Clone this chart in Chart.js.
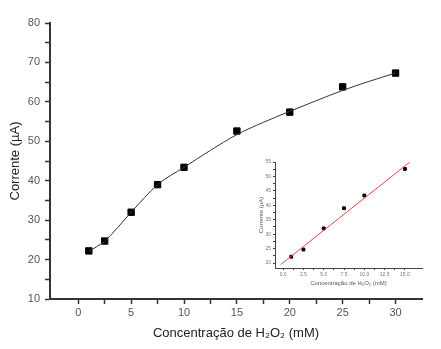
<!DOCTYPE html>
<html>
<head>
<meta charset="UTF-8">
<title>Corrente vs H2O2</title>
<script src="https://cdn.jsdelivr.net/npm/chart.js"></script>
<style>
	body { margin: 0; background: #fff; }
	#wrap { position: relative; width: 441px; height: 349px; }
	#main { position: absolute; left: 0; top: 0; }
	#inset { position: absolute; left: 240px; top: 150px; }
</style>
</head>
<body>
<div id="wrap">
	<canvas id="main" width="441" height="349"></canvas>
	<canvas id="inset" width="190" height="150"></canvas>
</div>
<script>
	const concentracao = [1, 2.5, 5, 7.5, 10, 15, 20, 25, 30];
	const corrente = [22.2, 24.7, 32.0, 39.0, 43.4, 52.6, 57.4, 63.8, 67.3];

	const curvaX = [1, 2.5, 5, 7.5, 10, 12.5, 15, 17.5, 20, 22.5, 25, 27.5, 30];
	const curvaY = [22.1, 24.7, 32.0, 39.0, 43.4, 47.7, 51.7, 54.8, 57.6, 60.3, 62.9, 65.2, 67.3];

	// inset (faixa linear)
	const concInset = [1, 2.5, 5, 7.5, 10, 15];
	const corrInset = [22.2, 24.7, 32.0, 39.0, 43.4, 52.6];
	const ajusteX = [-0.3, 15.7];
	const ajusteY = [19.5, 55.2];

	const xTicksMain = [0, 2.5, 5, 7.5, 10, 12.5, 15, 17.5, 20, 22.5, 25, 27.5, 30];
	const yTicksMain = [10, 15, 20, 25, 30, 35, 40, 45, 50, 55, 60, 65, 70, 75, 80];
	const xTicksInset = [0, 1.25, 2.5, 3.75, 5, 6.25, 7.5, 8.75, 10, 11.25, 12.5, 13.75, 15];
	const yTicksInset = [20, 22.5, 25, 27.5, 30, 32.5, 35, 37.5, 40, 42.5, 45, 47.5, 50, 52.5, 55];

	const pts = (xs, ys) => xs.map((x, i) => ({x: x, y: ys[i]}));
	const fixTicks = list => function(scale){ scale.ticks = list.map(v => ({value: v})); };

	Chart.defaults.font.family = 'Liberation Sans, Arial, sans-serif';
	Chart.defaults.animation = false;

	const eixo = '#333';

	new Chart(document.getElementById('main'), {
		type: 'line',
		data: {
			datasets: [{
				data: pts(curvaX, curvaY),
				borderColor: '#333',
				borderWidth: 1,
				pointRadius: 0,
				cubicInterpolationMode: 'monotone'
			}, {
				data: pts(concentracao, corrente),
				showLine: false,
				borderColor: '#000',
				backgroundColor: '#000',
				pointStyle: 'rect',
				pointRadius: 4.5
			}]
		},
		options: {
			responsive: false,
			layout: { padding: { top: 23, right: 19, bottom: 0, left: 0 } },
			plugins: { legend: { display: false }, tooltip: { enabled: false } },
			scales: {
				x: {
					type: 'linear',
					min: -2.67, max: 32.5,
					afterBuildTicks: fixTicks(xTicksMain),
					afterFit: s => { s.height = 50; },
					border: { color: eixo, width: 2 },
					grid: { drawOnChartArea: false, tickLength: 5, tickColor: eixo, tickWidth: 1.5 },
					ticks: {
						padding: 2, color: '#555', font: { size: 11 },
						callback: v => (v % 5 === 0 ? v : '')
					},
					title: {
						display: true, text: 'Concentração de H₂O₂ (mM)', color: '#222',
						font: { size: 13 }, padding: { top: 0, bottom: 8 }
					}
				},
				y: {
					min: 10, max: 80,
					afterBuildTicks: fixTicks(yTicksMain),
					afterFit: s => { s.width = 50; },
					border: { color: eixo, width: 2 },
					grid: { drawOnChartArea: false, tickLength: 5, tickColor: eixo, tickWidth: 1.5 },
					ticks: {
						padding: 5, color: '#555', font: { size: 11 },
						callback: v => (v % 10 === 0 ? v : '')
					},
					title: {
						display: true, text: 'Corrente (µA)', color: '#222',
						font: { size: 13 }, padding: { top: 8, bottom: 0 }
					}
				}
			}
		}
	});

	new Chart(document.getElementById('inset'), {
		type: 'line',
		data: {
			datasets: [{
				data: pts(ajusteX, ajusteY),
				borderColor: 'rgb(230, 70, 70)',
				borderWidth: 1,
				pointRadius: 0
			}, {
				data: pts(concInset, corrInset),
				showLine: false,
				backgroundColor: '#000',
				borderColor: '#000',
				pointStyle: 'rect',
				pointRadius: 2
			}]
		},
		options: {
			responsive: false,
			layout: { padding: { top: 12, right: 8, bottom: 0, left: 0 } },
			plugins: { legend: { display: false }, tooltip: { enabled: false } },
			scales: {
				x: {
					type: 'linear',
					min: -1.0, max: 17.1,
					afterBuildTicks: fixTicks(xTicksInset),
					afterFit: s => { s.height = 32; },
					border: { color: '#444', width: 1 },
					grid: { drawOnChartArea: false, tickLength: 2, tickColor: '#444' },
					ticks: {
						padding: 2, color: '#777', font: { size: 5 }, maxRotation: 0, autoSkip: false,
						callback: v => (v % 2.5 === 0 ? v.toFixed(1) : '')
					},
					title: {
						display: true, text: 'Concentração de H₂O₂ (mM)', color: '#555',
						font: { size: 6 }, padding: { top: 0, bottom: 13 }
					}
				},
				y: {
					min: 18.3, max: 55,
					afterBuildTicks: fixTicks(yTicksInset),
					afterFit: s => { s.width = 35; },
					border: { color: '#444', width: 1 },
					grid: { drawOnChartArea: false, tickLength: 2, tickColor: '#444' },
					ticks: {
						padding: 2, color: '#777', font: { size: 5 }, autoSkip: false,
						callback: v => (v % 5 === 0 ? v : '')
					},
					title: {
						display: true, text: 'Corrente (µA)', color: '#555',
						font: { size: 6 }, padding: { top: 18, bottom: 0 }
					}
				}
			}
		}
	});
</script>
</body>
</html>
